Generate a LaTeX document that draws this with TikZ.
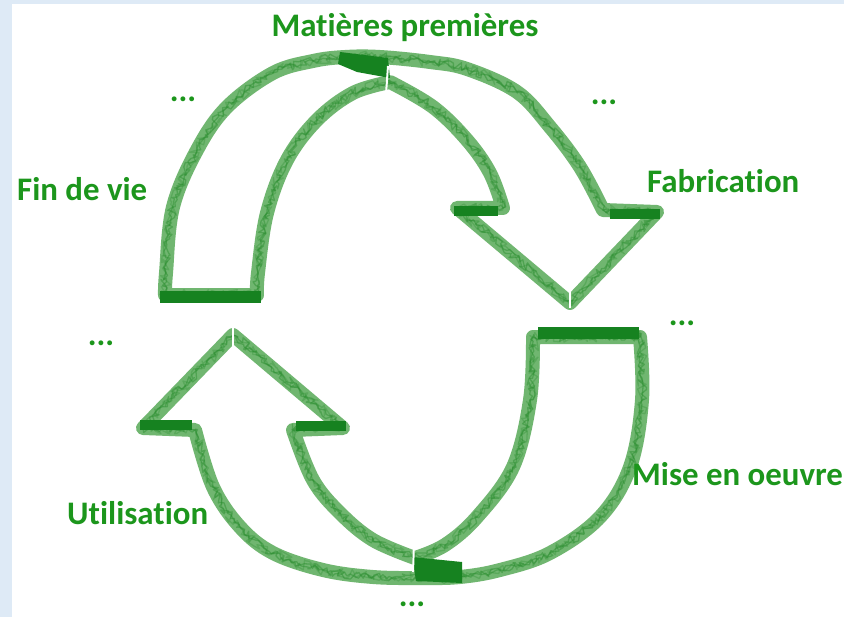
\documentclass[tikz,border=0pt]{standalone}
\usepackage{fontspec}
\setmainfont{Carlito}[Ligatures=NoCommon]
\usetikzlibrary{decorations.pathmorphing}
\definecolor{bgblue}{RGB}{222,234,246}
\definecolor{bandgreen}{RGB}{112,182,112}
\definecolor{scribgreen}{RGB}{40,140,45}
\definecolor{darkgreen}{RGB}{22,130,32}
\definecolor{textgreen}{RGB}{28,150,28}
\tikzset{
  band/.style={draw=bandgreen, line width=14bp, line join=round, line cap=round},
  scribble/.style={draw=scribgreen, line width=1.3bp, opacity=0.45, line join=round,
    decorate, decoration={random steps, segment length=3bp, amplitude=#1}},
  darkend/.style={draw=darkgreen, line width=12bp, line cap=butt},
  slit/.style={draw=white, line width=2bp},
  lbl/.style={font=\fontsize{33}{38}\selectfont\bfseries, text=textgreen, inner sep=0pt},
}
\newcommand\toparrowpath{plot[smooth, tension=0.6] coordinates {(165,295) (166,273) (173,207) (197,150) (227,107) (273,73) (313,61) (345,57) (380,57) (430,62) (467,69) (517,92) (550,127) (580,167) (603,210)}
 -- (657,212) -- (570,303) -- (457,208) -- (503,208)
 -- plot[smooth, tension=0.6] coordinates {(503,208) (490,173) (467,140) (433,107) (390,82)}
 -- plot[smooth, tension=0.6] coordinates {(390,82) (353,93) (317,120) (287,160) (267,213) (258,273) (257,295)}
 -- cycle}
\newcommand\botarrowpath{(533,337) -- (640,337)
 -- plot[smooth,tension=0.6] coordinates {(640,337) (642,400) (630,467) (600,517) (550,553) (500,570) (460,577) (423,578) (373,577) (323,570) (273,553) (240,527) (213,487) (195,430)}
 -- (143,428) -- (233,335) -- (343,428) -- (293,430)
 -- plot[smooth,tension=0.6] coordinates {(293,430) (313,480) (340,513) (373,540) (415,558)}
 -- plot[smooth,tension=0.6] coordinates {(415,558) (445,545) (477,517) (513,467) (530,400) (533,337)}
 -- cycle}
\begin{document}
\begin{tikzpicture}[x=1bp,y=-1bp]
\pgfmathsetseed{7}
\useasboundingbox (0,0) rectangle (844,617);
\fill[bgblue] (0,0) rectangle (844,617);
\fill[white] (12,4) rectangle (844,617);

% top arrow
\draw[band] \toparrowpath;
\draw[scribble=4.5bp] \toparrowpath;
\draw[scribble=3bp] \toparrowpath;
\draw[scribble=5.5bp, opacity=0.3] \toparrowpath;
\draw[darkend] (160,297) -- (261,297);
\fill[darkgreen] (340,52) -- (388,58) -- (390,78) -- (357,72) -- (338,64) -- cycle;
\draw[darkend, line width=10bp] (454,211) -- (498,211);
\draw[darkend, line width=10bp] (610,214) -- (660,214);

% bottom arrow
\draw[band] \botarrowpath;
\draw[scribble=4.5bp] \botarrowpath;
\draw[scribble=3bp] \botarrowpath;
\draw[scribble=5.5bp, opacity=0.3] \botarrowpath;
\draw[darkend] (538,333) -- (639,333);
\fill[darkgreen] (412,557) -- (462,562) -- (462,583) -- (416,581) -- cycle;
\draw[darkend, line width=10bp] (140,425) -- (192,425);
\draw[darkend, line width=10bp] (296,426) -- (346,426);

% slits
\draw[slit] (388,66) -- (386,94);
\draw[slit] (570,284) -- (570,308);
\draw[slit] (414,543) -- (413,572);
\draw[slit] (233,328) -- (233,352);

% labels
\node[lbl, anchor=base] (mp) at (405,37) {Matières premières};
\node[lbl, anchor=base west] (fv) at (17,201) {Fin de vie};
\node[lbl, anchor=base west] (fab) at (647,193) {Fabrication};
\node[lbl, anchor=base west] (meo) at (632,485) {Mise en oeuvre};
\node[lbl, anchor=base west] (uti) at (67,524) {Utilisation};
\node[lbl, anchor=base] (d1) at (183,102) {...};
\node[lbl, anchor=base] (d2) at (604,105) {...};
\node[lbl, anchor=base] (d3) at (682,325) {...};
\node[lbl, anchor=base] (d4) at (101,345) {...};
\node[lbl, anchor=base] (d5) at (412,606) {...};
\end{tikzpicture}
\end{document}
